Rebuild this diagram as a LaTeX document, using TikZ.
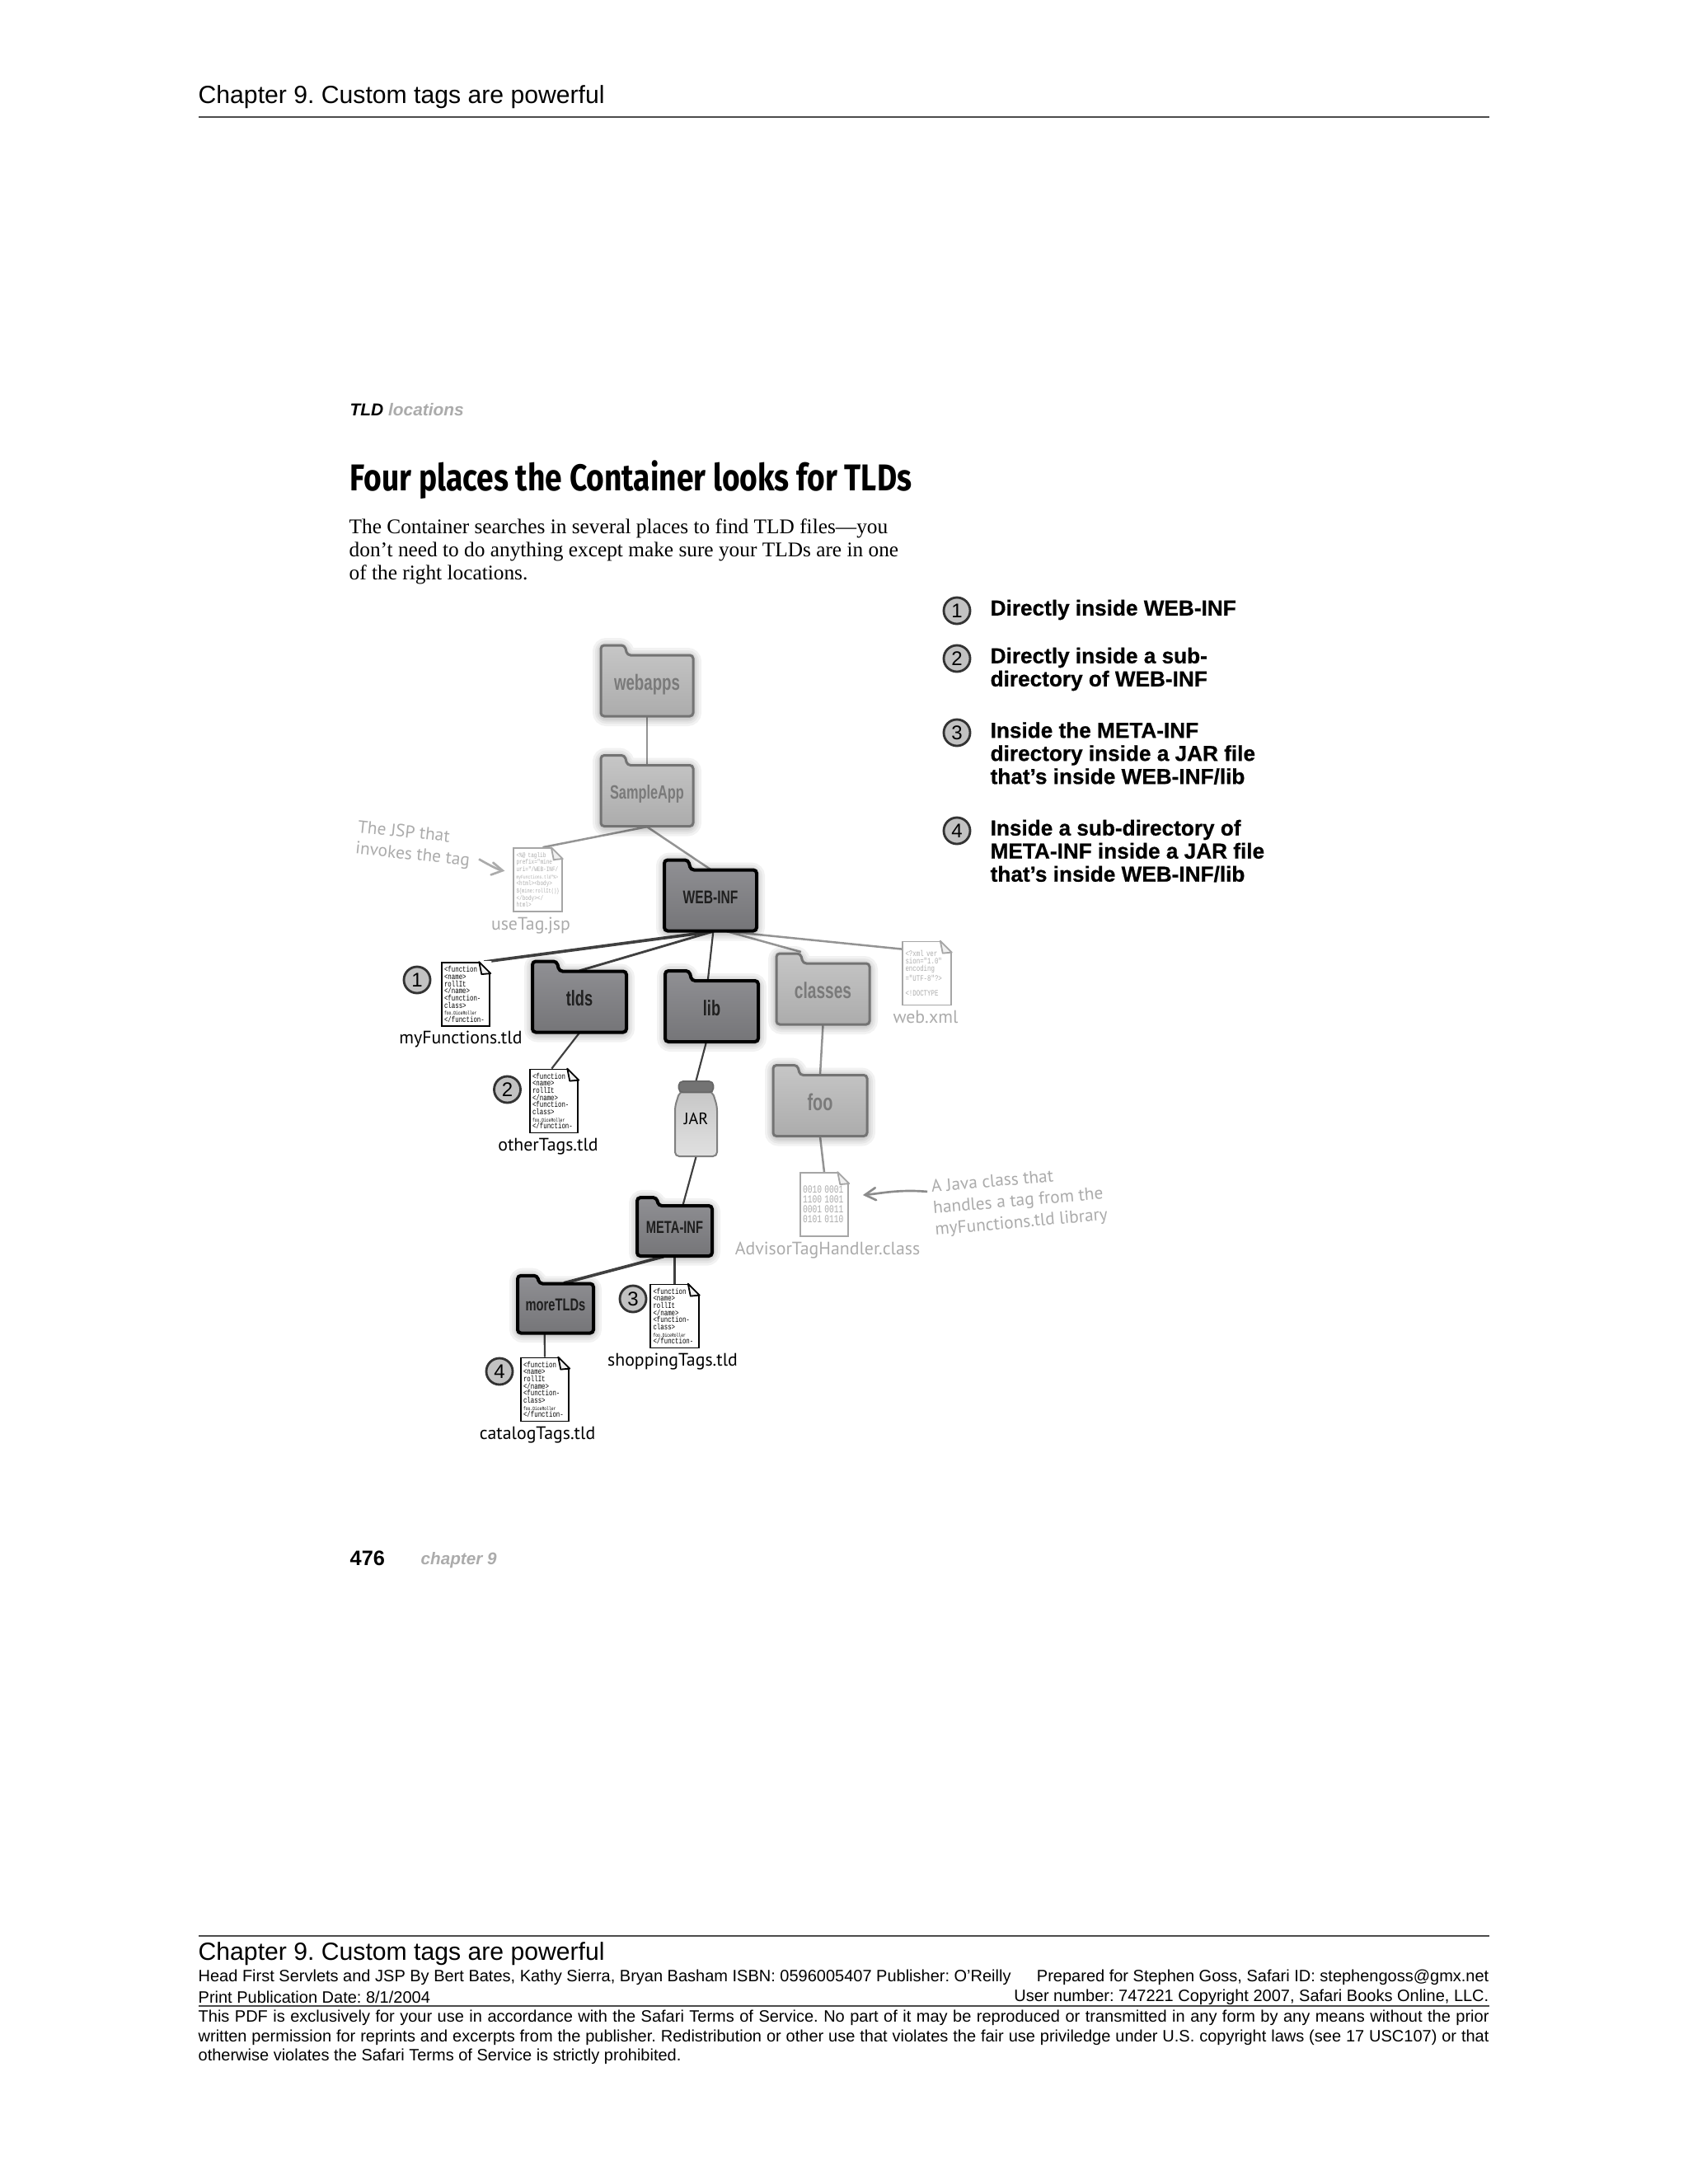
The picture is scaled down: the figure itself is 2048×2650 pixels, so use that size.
\documentclass[tikz,border=0pt]{standalone}
\usepackage{fontspec}
\setmainfont{Liberation Serif}
\setsansfont{Liberation Sans}
\newfontfamily\handfont{PT Sans}
\newfontfamily\titlefont[FakeStretch=.82]{Fira Sans}
\newfontfamily\foldfont[FakeStretch=.7]{Liberation Sans}
\newfontfamily\filefont[FakeStretch=.74]{Liberation Mono}
\newfontfamily\heavyfont[BoldFeatures={FakeBold=.6}]{Liberation Sans}
\usetikzlibrary{arrows}
\usetikzlibrary{backgrounds}
\definecolor{foldtop}{HTML}{C6C6C6}
\definecolor{foldlow}{HTML}{ACACAC}
\definecolor{darktop}{HTML}{909094}
\definecolor{darklow}{HTML}{757578}
\definecolor{notegray}{HTML}{ABABAB}
\tikzset{
 foldlight/.style={top color=foldtop, bottom color=foldlow, draw=black!55, line width=.9pt, rounded corners=1.2pt},
 folddark/.style={top color=darktop, bottom color=darklow, draw=black, line width=1.2pt, rounded corners=1.2pt},
 foldname/.style={inner sep=0},
 namelight/.style={text=black!52},
 namedark/.style={text=black!88},
 file/.style={rectangle, fill=white, inner sep=0, align=left, text width=15.6pt, minimum height=23.1pt, font=\filefont\fontsize{3}{2.6}\selectfont},
 filedark/.style={draw=black, line width=.55pt, text=black},
 filelight/.style={draw=black!35, line width=.55pt, text=black!32},
 filename/.style={inner sep=0, font=\handfont\fontsize{6.55}{7}\selectfont},
 namefiledark/.style={text=black},
 namefilelight/.style={text=notegray},
 note/.style={inner sep=0, align=left, text=notegray, font=\handfont\fontsize{6.4}{7.8}\selectfont},
 number/.style={circle, draw=black!80, fill=black!24, line width=.85pt, inner sep=0, minimum size=9.6pt, font=\sffamily\fontsize{7.2}{7}\selectfont},
 place/.style={inner sep=0, anchor=west, align=left, font=\heavyfont\bfseries\fontsize{7.85}{8.4}\selectfont},
 linklight/.style={draw=black!42, line width=.75pt},
 linkdark/.style={draw=black!75, line width=.65pt},
 linkmid/.style={draw=black!75, line width=.85pt},
 linkbold/.style={draw=black!75, line width=1.1pt},
}
\newcommand{\tldtext}{<function\\<name>\\rollIt\\</name>\\<function-\\class>\\{\fontsize{1.9}{2.6}\selectfont foo.DiceRoller}\\</function-}
\newcommand{\jsptext}{\fontsize{2.45}{2.6}\selectfont <\%@ taglib\\prefix="mine"\\uri="/WEB-INF/\\{\fontsize{1.9}{2.6}\selectfont myFunctions.tld"\%>}\\<html><body>\\{\fontsize{2.2}{2.6}\selectfont \$\{mine:rollIt()\}}\\</body></\\html>}
\newcommand{\xmltext}{<?xml ver\\sion="1.0"\\encoding\\="UTF-8"?>\\[2.7pt]<!DOCTYPE}
\newcommand{\classtext}{\fontsize{3.9}{3.6}\selectfont 0010 0001\\1100 1001\\0001 0011\\0101 0110}
\begin{document}
\frenchspacing
\begin{tikzpicture}[x=.3pt,y=-.3pt]
\useasboundingbox (0,0) rectangle (2048,2650);
% page header and footer
\node[inner sep=0, anchor=west, font=\sffamily\fontsize{9.05}{10}\selectfont] (header) at (240,118) {Chapter 9. Custom tags are powerful};
\draw[black!70, line width=.55pt] (241,142)--(1807,142);
\draw[black!70, line width=.55pt] (241,2349)--(1807,2349);
\draw[black!70, line width=.55pt] (241,2434)--(1807,2434);
\node[inner sep=0, anchor=west, font=\sffamily\fontsize{9.05}{10}\selectfont] (footer) at (240,2371) {Chapter 9. Custom tags are powerful};
\foreach \tn/\x/\y/\anc/\txt in {
  head/240/2399/west/{Head First Servlets and JSP By Bert Bates, Kathy Sierra, Bryan Basham ISBN: 0596005407 Publisher: O'Reilly},
  safari/1807/2399/east/{Prepared for Stephen Goss, Safari ID: stephengoss@gmx.net},
  print/240/2423/west/{Print Publication Date: 8/1/2004},
  user/1807/2423/east/{User number: 747221 Copyright 2007, Safari Books Online, LLC.},
  termsa/240/2448/west/{\makebox[469.8pt][s]{This PDF is exclusively for your use in accordance with the Safari Terms of Service. No part of it may be reproduced or transmitted in any form by any means without the prior}},
  termsb/240/2472/west/{\makebox[469.8pt][s]{written permission for reprints and excerpts from the publisher. Redistribution or other use that violates the fair use priviledge under U.S. copyright laws (see 17 USC107) or that}},
  termsc/240/2495/west/{otherwise violates the Safari Terms of Service is strictly prohibited.}} {
 \node[inner sep=0, anchor=\anc, font=\sffamily\fontsize{6}{7}\selectfont] (\tn) at (\x,\y) {\txt};
}
\node[inner sep=0, anchor=west, font=\sffamily\bfseries\fontsize{7.6}{8}\selectfont] (pagenum) at (424,1891) {476};
\node[inner sep=0, anchor=west, text=notegray, font=\sffamily\bfseries\itshape\fontsize{6.2}{8}\selectfont] (pagechapter) at (510,1893) {chapter 9};
% heading and intro
\node[inner sep=0, anchor=west, font=\sffamily\bfseries\itshape\fontsize{6.27}{8}\selectfont] (running) at (424,497) {TLD \textcolor{notegray}{locations}};
\node[inner sep=0, anchor=west, font=\titlefont\bfseries\fontsize{13.6}{14}\selectfont] (title) at (424,582) {Four places the Container looks for TLDs};
\node[inner sep=0, anchor=west, align=left, font=\fontsize{7.6}{8.4}\selectfont] (intro) at (423,669) {The Container searches in several places to find TLD files—you\\don’t need to do anything except make sure your TLDs are in one\\of the right locations.};
% the four places
\foreach \pn/\y/\ty/\n/\txt in {
  placea/741/740/1/{Directly inside WEB-INF},
  placeb/799/812/2/{Directly inside a sub-\\directory of WEB-INF},
  placec/889/914/3/{Inside the META-INF\\directory inside a JAR file\\that’s inside WEB-INF/lib},
  placed/1008/1032.5/4/{Inside a sub-directory of\\META-INF inside a JAR file\\that’s inside WEB-INF/lib}} {
 \node[number] (\pn num) at (1161,\y) {\n};
 \node[place] (\pn) at (1201,\ty) {\txt};
}
% folders
\foreach \fn/\x/\y/\w/\h/\tone/\fs/\lbl in {
  webapps/785/832/112/74/light/8/webapps,
  sampleapp/785/965.5/112/74/light/7/SampleApp,
  webinf/862/1092.5/112/74/dark/6.7/WEB-INF,
  tlds/703/1215.5/114/74/dark/7.8/tlds,
  lib/863.5/1227/113/74/dark/7.8/lib,
  classes/998.5/1206/113/74/light/8.2/classes,
  foo/995/1341.5/114/74/light/8.5/foo,
  metainf/818.5/1493.5/91/61/dark/6.3/META-INF,
  moretlds/674/1587.5/92/60/dark/6.3/moreTLDs} {
 \begin{scope}[shift={(\x,\y)}, xscale=\w/112, yscale=\h/74]
  \foreach \s in {20,14,9,5}
   \draw[black, opacity=.05, line width=\s*.3pt, rounded corners=2pt] (-56,39)--(-56,-48)--(-27,-48)--(-24,-36)--(56,-36)--(56,39)--cycle;
  \path[fold\tone] (-56,37)--(-56,-49)--(-27,-49)--(-24,-37)--(56,-37)--(56,37)--cycle;
 \end{scope}
 \node[foldname, name\tone, font=\foldfont\bfseries\fontsize{\fs}{7}\selectfont, minimum width=\w*.3pt, minimum height=\h*.3pt] (\fn) at (\x,\y) {\raisebox{2.4pt}{\lbl}};
}
% jar
\begin{scope}[shift={(844.5,1357.5)}]
 \path[top color=black!22, bottom color=black!12, draw=black!50, line width=.6pt, rounded corners=1.5pt] (-20,-33)--(-25.5,-15)--(-25.5,45.5)--(25.5,45.5)--(25.5,-15)--(20,-33)--cycle;
 \path[fill=black!55, draw=black!60, line width=.5pt, rounded corners=1.5pt] (-21,-45.5) rectangle (21,-32);
\end{scope}
\node[inner sep=0, minimum width=15.3pt, minimum height=27.3pt, font=\handfont\fontsize{6}{7}\selectfont] (jar) at (844.5,1357.5) {JAR};
% files
\foreach \dn/\x/\y/\tone/\body/\lx/\ly/\lbl in {
  usetag/652.5/1067.5/light/\jsptext/644/1123/useTag.jsp,
  webxml/1124.5/1181/light/\xmltext/1123/1234/web.xml,
  classfile/1000/1461.5/light/\classtext/1004/1517/AdvisorTagHandler.class,
  myfunctions/565/1206.5/dark/\tldtext/559/1261/myFunctions.tld,
  othertags/672/1336/dark/\tldtext/665/1391/otherTags.tld,
  shoppingtags/818.5/1597/dark/\tldtext/816/1652/shoppingTags.tld,
  catalogtags/661/1686/dark/\tldtext/652/1741/catalogTags.tld} {
 \node[file, file\tone, minimum width=17.6pt] (\dn) at (\x,\y) {\body};
 \fill[white] (\dn.north east)++(-14,-1)--++(15,0)--++(0,16)--cycle;
 \draw[file\tone, fill=black!6, line join=round] (\dn.north east)++(-14,0)--++(14,14)--++(-11,1)--cycle;
 \node[filename, namefile\tone] (\dn name) at (\lx,\ly) {\lbl};
}
% markers beside the tld files
\foreach \cn/\x/\y/\n in {marka/506/1189/1, markb/615.5/1322/2, markc/768/1576/3, markd/606/1664/4}
 \node[number] (\cn) at (\x,\y) {\n};
% hand notes
\node[note, rotate=-6] (jspnote) at (502,1025) {The JSP that\\invokes the tag};
\node[note, rotate=5] (classnote) at (1237,1458) {A Java class that\\handles a tag from the\\myFunctions.tld library};
\draw[notegray, line width=.8pt, ->, >=angle 60, shorten >=3pt] ([xshift=3.5pt,yshift=4pt]jspnote.south east) to[out=-30, in=170] ([yshift=2.7pt]usetag.west);
\draw[black!45, line width=.8pt, ->, >=angle 60, shorten <=1pt, shorten >=5pt] ([yshift=6.3pt,xshift=-1pt]classnote.west) to[out=175, in=5] ([yshift=3pt]classfile.east);
% tree
\begin{scope}[on background layer]
\draw[linklight] (webapps.south)--(sampleapp.north);
\draw[linklight] (sampleapp.south)--([xshift=1.8pt]usetag.north);
\draw[linklight] (sampleapp.south)--(webinf.north);
\draw[linklight] ([xshift=6pt]webinf.south)--([xshift=-8pt,yshift=4pt]classes.north);
\draw[linklight] ([xshift=6pt]webinf.south)--([yshift=-3pt]webxml.north west);
\draw[linkbold] ([xshift=1pt]webinf.south)--([xshift=-2.4pt]myfunctions.north east);
\draw[linkmid] ([xshift=1pt]webinf.south)--(tlds.north);
\draw[linkdark] ([xshift=1pt]webinf.south)--([xshift=-1.4pt]lib.north);
\draw[linkdark] (tlds.south)--([xshift=-.8pt]othertags.north);
\draw[linkdark] ([xshift=-2pt]lib.south)--(jar.north);
\draw[linkdark] (jar.south)--([xshift=3pt]metainf.north);
\draw[linklight] (classes.south)--(foo.north);
\draw[linklight] (foo.south)--(classfile.north);
\draw[linkbold] ([xshift=-4pt]metainf.south)--([xshift=3pt]moretlds.north);
\draw[linkdark] (metainf.south)--(shoppingtags.north);
\draw[linkdark] ([xshift=-4pt]moretlds.south)--(catalogtags.north);
\end{scope}
\end{tikzpicture}
\end{document}
